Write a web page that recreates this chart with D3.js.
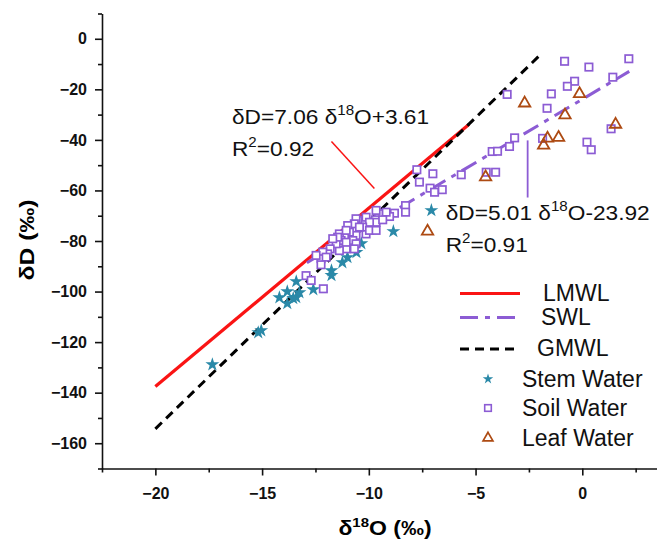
<!DOCTYPE html>
<html><head><meta charset="utf-8">
<script src="https://cdn.jsdelivr.net/npm/d3@7"></script>
<style>
body{margin:0;background:#fff}
svg{display:block}
text{font-family:Arial,"Liberation Sans",sans-serif}
</style>
</head><body>
<svg id="chart" width="657" height="545"></svg>
<script>
// ---- tick values ----
const xTicks = [-20, -15, -10, -5, 0];
const xMinor = [-22.5, -17.5, -12.5, -7.5, -2.5, 2.5];
const yTicks = [-160, -140, -120, -100, -80, -60, -40, -20, 0];
const yMinor = [-170, -150, -130, -110, -90, -70, -50, -30, -10, 10];

// ---- Stem Water ----
const stemX = [-17.33, -15.18, -15.04, -14.19, -13.82, -13.82, -13.54, -13.40, -13.40, -12.60, -11.75, -11.75, -11.24, -11.00, -10.35, -8.85, -7.07, -10.58, -13.25];
const stemY = [-128.9, -116.2, -115.4, -102.4, -100.0, -104.7, -102.7, -102.3, -96.0, -99.2, -91.7, -93.6, -88.5, -86.5, -81.0, -76.2, -67.9, -84.5, -100.4];

// ---- Soil Water ----
const soilX = [-0.83, 0.31, 2.18, 1.43, -0.36, -0.70, -1.45, -3.52, -1.65, 1.35, -3.17, -3.41, -1.86, -4.22, -3.97, 0.22, 0.42, -4.50, -4.06, -5.67, -7.00, -7.75, -7.63, -7.13, -6.92, -6.56, -8.28, -8.28,
  -8.80, -9.03, -9.19, -9.54, -9.66, -9.69, -9.66, -10.13, -9.97, -10.13, -10.52, -10.60, -10.68, -10.29, -10.60, -10.99, -9.35, -9.97, -10.91, -11.14, -11.38, -11.30, -10.75, -10.60, -10.68, -11.06, -11.38, -11.53, -11.81, -11.93, -12.16, -12.24, -12.00, -12.47, -12.94, -12.70, -12.13, -12.24, -11.46, -11.06, -10.44, -11.06, -11.69, -9.66];
const soilY = [-8.9, -11.2, -7.9, -15.2, -16.8, -18.8, -21.8, -22.0, -27.5, -35.6, -39.2, -42.6, -39.4, -44.6, -44.5, -40.9, -43.9, -52.8, -52.8, -53.8, -53.4, -51.8, -56.7, -59.1, -60.7, -59.7, -66.0, -68.6,
  -69.0, -70.3, -68.6, -69.2, -67.9, -71.6, -72.6, -70.6, -72.6, -77.2, -71.9, -71.2, -73.2, -74.5, -77.8, -73.9, -71.6, -75.8, -76.5, -77.8, -77.2, -79.8, -79.8, -81.1, -83.1, -83.1, -83.8, -81.1, -83.1, -85.1, -84.4, -87.0, -86.4, -85.7, -93.7, -95.6, -98.9, -89.4, -78.5, -80.5, -74.5, -75.8, -79.1, -75.8];

// ---- Leaf Water ----
const leafX = [-2.70, -0.13, -0.81, -1.63, -1.11, -1.81, -4.53, 1.56, -7.25];
const leafY = [-25.1, -21.4, -29.8, -39.0, -38.7, -41.8, -54.3, -33.5, -75.8];

// ---- fitted lines (end points) ----
const lmwlX = [-20, -5.3], lmwlY = [-137.6, -33.8];
const swlX = [-12.9, 2.2], swlY = [-88.6, -12.9];
const gmwlX = [-20, -2.0], gmwlY = [-154.3, -6.6];

// ---- annotation leader lines (data units) ----
const leader1X = [-11.75, -9.74], leader1Y = [-40.6, -59.2];
const leader2X = [-2.56, -2.56], leader2Y = [-40.2, -62.8];

// ---- legend ----
const legendLines = ["LMWL", "SWL", "GMWL"];
const legendPoints = ["Stem Water", "Soil Water", "Leaf Water"];

const C = {red: "#fa1414", purple: "#8c5cd4", black: "#000", teal: "#2a89a8", brown: "#ad4a12"};

const svg = d3.select("#chart");
const x = d3.scaleLinear([-22.5, 3.5], [102, 657]);
const y = d3.scaleLinear([-170, 10], [468.5, 13.5]);

// axes
svg.append("g").attr("transform", "translate(0,468.5)")
  .call(d3.axisBottom(x).tickValues(xTicks).tickSize(7).tickSizeOuter(0).tickPadding(12));
const gxm = svg.append("g").attr("transform", "translate(0,468.5)")
  .call(d3.axisBottom(x).tickValues(xMinor).tickSize(4).tickFormat(""));
gxm.select(".domain").remove();
svg.append("g").attr("transform", "translate(102,0)")
  .call(d3.axisLeft(y).tickValues(yTicks).tickSize(7).tickSizeOuter(0).tickPadding(8));
const gym = svg.append("g").attr("transform", "translate(102,0)")
  .call(d3.axisLeft(y).tickValues(yMinor).tickSize(4).tickFormat(""));
gym.select(".domain").remove();
svg.selectAll(".domain").attr("stroke-width", 1.6).attr("stroke", "#111");
svg.selectAll(".tick line").attr("stroke-width", 1.6).attr("stroke", "#111");
svg.selectAll(".tick text").attr("font-size", 16).attr("font-weight", "bold")
  .attr("font-family", "Arial, 'Liberation Sans', sans-serif").attr("fill", "#111");

// axis titles
const xt = svg.append("text").attr("transform", "translate(385,535) scale(1.15,1)").attr("text-anchor", "middle")
  .attr("font-size", 20).attr("font-weight", "bold");
xt.append("tspan").text("δ");
xt.append("tspan").text("18").attr("font-size", 13).attr("dy", -8);
xt.append("tspan").text("O (‰)").attr("dy", 8);
svg.append("text").attr("transform", "translate(34,240) rotate(-90) scale(1.18,1)").attr("text-anchor", "middle")
  .attr("font-size", 21).attr("font-weight", "bold").text("δD (‰)");

// lines
const line = d3.line().x(d => x(d[0])).y(d => y(d[1]));
svg.append("path").datum(d3.zip(lmwlX, lmwlY)).attr("d", line)
  .attr("stroke", C.red).attr("stroke-width", 3.2).attr("fill", "none");
svg.append("path").datum(d3.zip(gmwlX, gmwlY)).attr("d", line)
  .attr("stroke", C.black).attr("stroke-width", 3).attr("fill", "none").attr("stroke-dasharray", "9,6");
svg.append("path").datum(d3.zip(swlX, swlY)).attr("d", line)
  .attr("stroke", C.purple).attr("stroke-width", 3).attr("fill", "none").attr("stroke-dasharray", "17,7,5,7");

// leader lines
svg.append("path").datum(d3.zip(leader1X, leader1Y)).attr("d", line)
  .attr("stroke", C.red).attr("stroke-width", 1.5).attr("fill", "none");
svg.append("path").datum(d3.zip(leader2X, leader2Y)).attr("d", line)
  .attr("stroke", C.purple).attr("stroke-width", 1.8).attr("fill", "none");

// points
const star = d3.symbol(d3.symbolStar, 60);
const tri = d3.symbol(d3.symbolTriangle, 56);
svg.append("g").selectAll("path").data(d3.zip(stemX, stemY)).join("path")
  .attr("d", star).attr("transform", d => `translate(${x(d[0])},${y(d[1])})`)
  .attr("fill", C.teal);
svg.append("g").selectAll("rect").data(d3.zip(soilX, soilY)).join("rect")
  .attr("x", d => x(d[0]) - 3.7).attr("y", d => y(d[1]) - 3.7).attr("width", 7.4).attr("height", 7.4)
  .attr("fill", "#fff").attr("stroke", C.purple).attr("stroke-width", 1.7);
svg.append("g").selectAll("path").data(d3.zip(leafX, leafY)).join("path")
  .attr("d", tri).attr("transform", d => `translate(${x(d[0])},${y(d[1]) + 1})`)
  .attr("fill", "none").attr("stroke", C.brown).attr("stroke-width", 1.8);

// equation annotations
function eqText(px, py, pre, sup, post) {
  const t = svg.append("text").attr("transform", `translate(${px},${py}) scale(1.08,1)`)
    .attr("font-size", 21).attr("fill", "#111");
  t.append("tspan").text(pre);
  t.append("tspan").text(sup).attr("font-size", 14).attr("dy", -9);
  t.append("tspan").text(post).attr("dy", 9);
}
eqText(x(-16.41), y(-33.6), "δD=7.06 δ", "18", "O+3.61");
eqText(x(-16.41), y(-46.2), "R", "2", "=0.92");
eqText(x(-6.4), y(-71.8), "δD=5.01 δ", "18", "O-23.92");
eqText(x(-6.4), y(-84.4), "R", "2", "=0.91");

// legend
const lg = svg.append("g");
const lStyles = [
  {c: C.red, dash: null, y: 293.5, x2: 520, tx: 543, ty: 301},
  {c: C.purple, dash: "18,7,5,7", y: 317.5, x2: 516, tx: 541, ty: 325},
  {c: C.black, dash: "9,6", y: 349, x2: 515, tx: 537, ty: 356}
];
legendLines.forEach((name, i) => {
  const s = lStyles[i];
  lg.append("line").attr("x1", 460).attr("x2", s.x2).attr("y1", s.y).attr("y2", s.y)
    .attr("stroke", s.c).attr("stroke-width", 3).attr("stroke-dasharray", s.dash);
  lg.append("text").attr("x", s.tx).attr("y", s.ty).attr("font-size", 23).attr("fill", "#111").text(name);
});
const pY = [379, 408, 437], tY = [387, 416, 445.5];
lg.append("path").attr("d", d3.symbol(d3.symbolStar, 34)()).attr("transform", `translate(488,${pY[0]})`).attr("fill", C.teal);
lg.append("rect").attr("x", 488 - 3.3).attr("y", pY[1] - 3.3).attr("width", 6.6).attr("height", 6.6)
  .attr("fill", "#fff").attr("stroke", C.purple).attr("stroke-width", 1.6);
lg.append("path").attr("d", d3.symbol(d3.symbolTriangle, 42)()).attr("transform", `translate(488,${pY[2] + 1})`)
  .attr("fill", "none").attr("stroke", C.brown).attr("stroke-width", 1.7);
legendPoints.forEach((name, i) => {
  lg.append("text").attr("x", 522).attr("y", tY[i]).attr("font-size", 23).attr("fill", "#111").text(name);
});
</script>
</body></html>
